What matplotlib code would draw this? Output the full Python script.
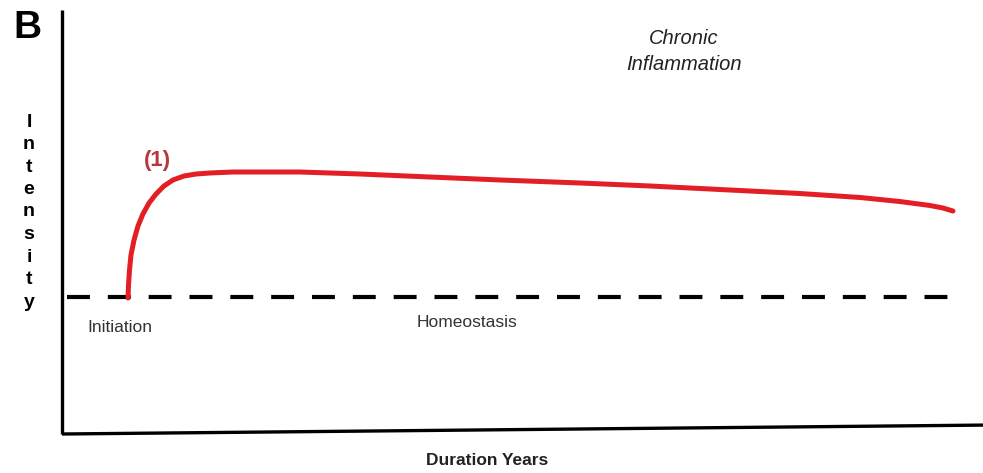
import matplotlib
matplotlib.use("Agg")
import matplotlib.pyplot as plt

# ---- data (arbitrary units: x = duration 0..100, y = intensity 0..100) ----
years = [7.17, 7.22, 7.33, 7.49, 7.82, 8.25, 8.79, 9.45, 10.21, 11.07,
         12.05, 13.25, 14.55, 16.07, 18.57, 25.84, 32.36, 39.96, 47.56,
         56.24, 63.84, 69.27, 75.79, 80.13, 86.65, 90.99, 94.25, 95.66, 96.74]
intensity = [32.08, 35.14, 38.68, 42.22, 45.75, 49.06, 51.89, 54.48, 56.60,
             58.49, 59.91, 60.85, 61.32, 61.56, 61.79, 61.79, 61.32, 60.61,
             59.91, 59.20, 58.49, 57.90, 57.19, 56.72, 55.78, 54.83, 53.89,
             53.30, 52.59]
homeostasis_x = [0.5, 96.2]
homeostasis_y = [32.3, 32.3]
xaxis_x = [0.0, 100.0]
xaxis_y = [0.0, 2.1]
yaxis_x = [0.0, 0.0]
yaxis_y = [0.0, 100.0]

W, H = 983, 473
fig = plt.figure(figsize=(W / 100, H / 100), dpi=100)
fig.patch.set_facecolor("white")

# axes placed so that the plotting origin is at px (62, 434)
x0, y0, x1, y1 = 62, 434, 983, 10
ax = fig.add_axes([x0 / W, (H - y0) / H, (x1 - x0) / W, (y0 - y1) / H])
ax.set_xlim(0, 100)
ax.set_ylim(0, 100)
ax.axis("off")

# axes lines
ax.plot(yaxis_x, yaxis_y, color="black", lw=2.4, solid_capstyle="butt", clip_on=False)
ax.plot(xaxis_x, xaxis_y, color="black", lw=2.4, solid_capstyle="butt", clip_on=False)

# homeostasis dashed baseline
ax.plot(homeostasis_x, homeostasis_y, color="black", lw=3.0,
        dashes=(5.5, 4.3), dash_capstyle="butt")

# chronic inflammation curve
ax.plot(years, intensity, color="#e31e24", lw=3.6, solid_joinstyle="round",
        solid_capstyle="round")

font = "Liberation Sans"

# texts (figure pixel positions)
def ftxt(px, py, s, **kw):
    fig.text(px / W, 1 - py / H, s, ha="center", va="center", family=font, **kw)

ftxt(27, 28, "B", fontsize=28, fontweight="bold")
letters = "Intensity"
for i, ch in enumerate(letters):
    ftxt(29, 122 + i * 22.5, ch, fontsize=14, fontweight="bold")
ftxt(157, 160, "(1)", fontsize=16, fontweight="bold", color="#b8373b")
ftxt(684, 38, "Chronic", fontsize=14.5, style="italic", color="#222222")
ftxt(684, 65, "Inflammation", fontsize=14.5, style="italic", color="#222222")
ftxt(120, 327, "Initiation", fontsize=12.5, color="#333333")
ftxt(467, 322, "Homeostasis", fontsize=12.5, color="#333333")
ftxt(487, 460, "Duration Years", fontsize=12.5, fontweight="bold", color="#222222")

fig.savefig("out.png", dpi=100, facecolor="white")
